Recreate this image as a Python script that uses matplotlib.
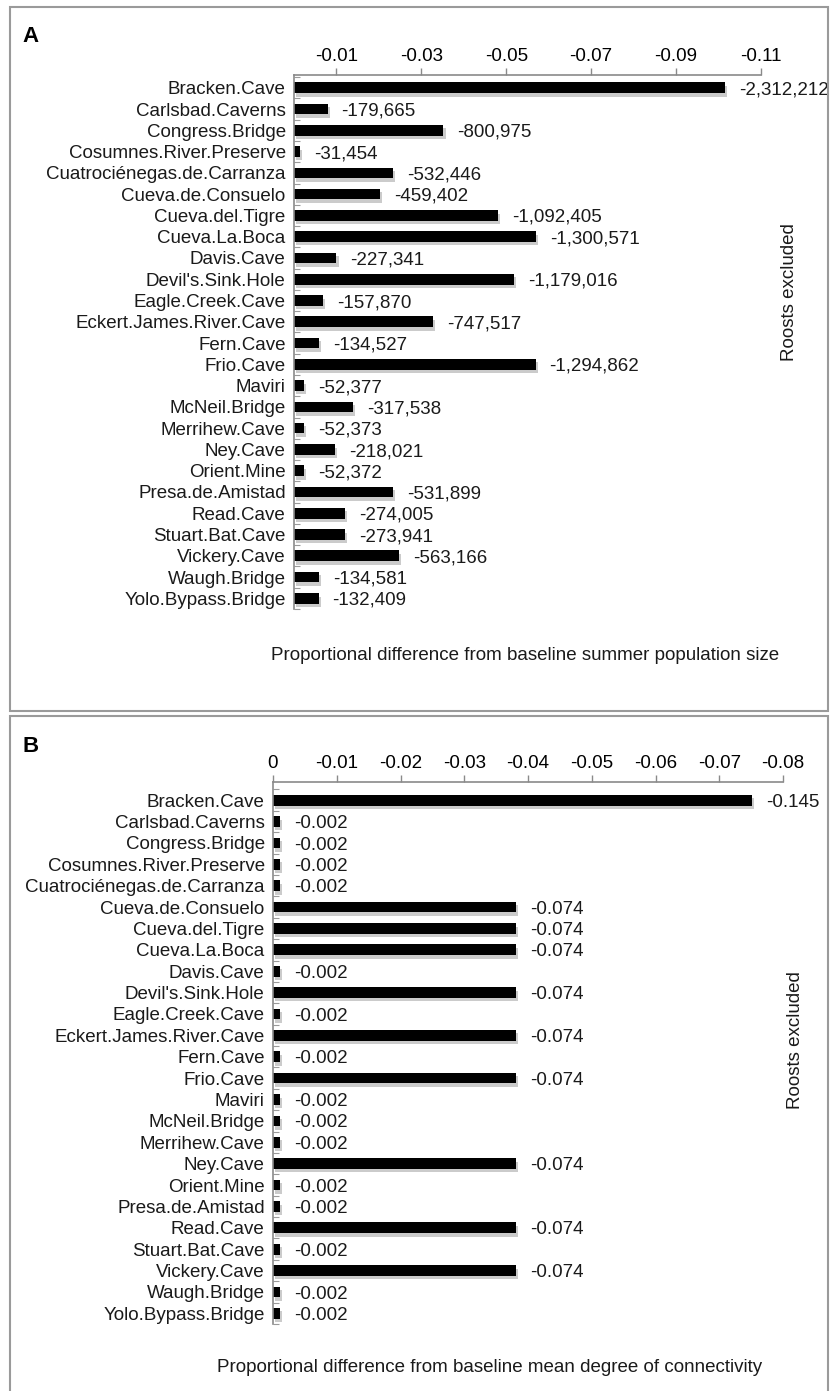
import numpy as np
import matplotlib
matplotlib.use("Agg")
import matplotlib.pyplot as plt
import matplotlib.patheffects as pe
from matplotlib.patches import Rectangle

plt.rcParams['font.family'] = ['Liberation Sans', 'DejaVu Sans']
plt.rcParams['font.size'] = 13.5

W, H = 831, 1391

roosts = ["Bracken.Cave", "Carlsbad.Caverns", "Congress.Bridge", "Cosumnes.River.Preserve",
          "Cuatrociénegas.de.Carranza", "Cueva.de.Consuelo", "Cueva.del.Tigre", "Cueva.La.Boca",
          "Davis.Cave", "Devil's.Sink.Hole", "Eagle.Creek.Cave", "Eckert.James.River.Cave",
          "Fern.Cave", "Frio.Cave", "Maviri", "McNeil.Bridge", "Merrihew.Cave", "Ney.Cave",
          "Orient.Mine", "Presa.de.Amistad", "Read.Cave", "Stuart.Bat.Cave", "Vickery.Cave",
          "Waugh.Bridge", "Yolo.Bypass.Bridge"]

# panel A: proportional change in summer population, labelled with the head count lost
pop_prop = [-0.1015, -0.0079, -0.0352, -0.0014, -0.0234, -0.0202, -0.0480, -0.0571,
            -0.0100, -0.0518, -0.0069, -0.0328, -0.0059, -0.0569, -0.0023, -0.0139,
            -0.0023, -0.0096, -0.0023, -0.0234, -0.0120, -0.0120, -0.0247, -0.0059, -0.0058]
pop_labels = ["-2,312,212", "-179,665", "-800,975", "-31,454", "-532,446", "-459,402",
              "-1,092,405", "-1,300,571", "-227,341", "-1,179,016", "-157,870", "-747,517",
              "-134,527", "-1,294,862", "-52,377", "-317,538", "-52,373", "-218,021",
              "-52,372", "-531,899", "-274,005", "-273,941", "-563,166", "-134,581", "-132,409"]
pop_ticks = [-0.01, -0.03, -0.05, -0.07, -0.09, -0.11]
pop_ticklabels = ["-0.01", "-0.03", "-0.05", "-0.07", "-0.09", "-0.11"]

# panel B: proportional change in mean degree of connectivity
deg_prop = [-0.0752, -0.0011, -0.0011, -0.0011, -0.0011, -0.0381, -0.0381, -0.0381,
            -0.0011, -0.0381, -0.0011, -0.0381, -0.0011, -0.0381, -0.0011, -0.0011,
            -0.0011, -0.0381, -0.0011, -0.0011, -0.0381, -0.0011, -0.0381, -0.0011, -0.0011]
deg_labels = ["-0.145", "-0.002", "-0.002", "-0.002", "-0.002", "-0.074", "-0.074", "-0.074",
              "-0.002", "-0.074", "-0.002", "-0.074", "-0.002", "-0.074", "-0.002", "-0.002",
              "-0.002", "-0.074", "-0.002", "-0.002", "-0.074", "-0.002", "-0.074", "-0.002", "-0.002"]
deg_ticks = [0, -0.01, -0.02, -0.03, -0.04, -0.05, -0.06, -0.07, -0.08]
deg_ticklabels = ["0", "-0.01", "-0.02", "-0.03", "-0.04", "-0.05", "-0.06", "-0.07", "-0.08"]


def box(x0, y0, x1, y1):
    # pixel box -> figure fraction [left, bottom, width, height]
    return [x0 / W, 1 - y1 / H, (x1 - x0) / W, (y1 - y0) / H]


def panel(ax, values, labels, ticks, ticklabels, xmax, ytop):
    y = np.arange(len(roosts))
    ax.barh(y, values, height=0.5, color='black',
            path_effects=[pe.withSimplePatchShadow(offset=(1.5, -2.5), shadow_rgbFace='0.6', alpha=0.5)])
    for yi, v, lab in zip(y, values, labels):
        ax.annotate(lab, xy=(v, yi), xytext=(10, -1.5), textcoords='offset points',
                    ha='left', va='center', color='#1a1a1a')
    ax.set_xlim(0, xmax)
    ax.set_ylim(len(roosts) - 0.5, ytop)
    ax.xaxis.tick_top()
    ax.set_xticks(ticks)
    ax.set_xticklabels(ticklabels)
    ax.set_yticks(y)
    ax.set_yticklabels(roosts, color='#1a1a1a')
    ax.set_yticks(np.arange(-0.5, len(roosts), 1), minor=True)
    ax.tick_params(axis='x', direction='out', length=5, width=1, color='#8a8a8a', pad=2)
    ax.tick_params(axis='y', which='major', length=0, pad=6)
    ax.tick_params(axis='y', which='minor', direction='in', length=4, width=0.8, color='#9a9a9a')
    for side in ('right', 'bottom'):
        ax.spines[side].set_visible(False)
    for side in ('top', 'left'):
        ax.spines[side].set_color('#8a8a8a')
        ax.spines[side].set_linewidth(1.2)
    ax.set_facecolor('none')


fig = plt.figure(figsize=(W / 100, H / 100), dpi=100)

# panel frames
for (x0, y0, x1, y1) in [(10, 7, 828, 711), (10, 716, 828, 1420)]:
    fig.patches.append(Rectangle((x0 / W, 1 - y1 / H), (x1 - x0) / W, (y1 - y0) / H,
                                 transform=fig.transFigure, fill=False,
                                 edgecolor='#9a9a9a', linewidth=1.5))

ax_a = fig.add_axes(box(294, 75, 761, 609))
panel(ax_a, pop_prop, pop_labels, pop_ticks, pop_ticklabels, -0.11, -0.6)

ax_b = fig.add_axes(box(273, 782, 783, 1324))
panel(ax_b, deg_prop, deg_labels, deg_ticks, deg_ticklabels, -0.08, -0.85)

fig.text(22 / W, 1 - 36 / H, "A", fontsize=16, fontweight='bold', va='center', ha='left')
fig.text(22 / W, 1 - 746 / H, "B", fontsize=16, fontweight='bold', va='center', ha='left')

fig.text(789 / W, 1 - 292 / H, "Roosts excluded", rotation=90, ha='center', va='center', color='#1a1a1a')
fig.text(796 / W, 1 - 1040 / H, "Roosts excluded", rotation=90, ha='center', va='center', color='#1a1a1a')

fig.text(525 / W, 1 - 655 / H, "Proportional difference from baseline summer population size",
         ha='center', va='center', color='#1a1a1a')
fig.text(490 / W, 1 - 1367 / H, "Proportional difference from baseline mean degree of connectivity",
         ha='center', va='center', color='#1a1a1a')

fig.savefig("out.png", dpi=100, facecolor='white')
